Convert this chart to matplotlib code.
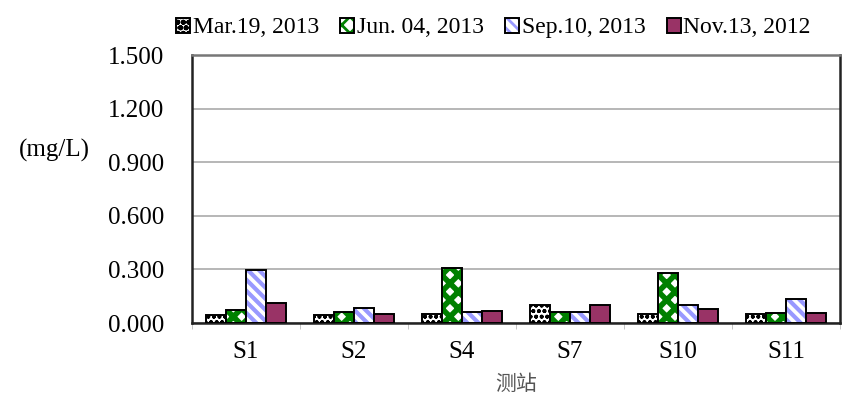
import numpy as np
import matplotlib
matplotlib.use('Agg')
import matplotlib.pyplot as plt

plt.rcParams['font.family'] = ['Liberation Serif', 'Noto Sans CJK SC']
plt.rcParams['hatch.linewidth'] = 2.0

# data
stations = ['S1', 'S2', 'S4', 'S7', 'S10', 'S11']
series_names = ['Mar.19, 2013', 'Jun. 04, 2013', 'Sep.10, 2013', 'Nov.13, 2012']
mar_2013 = [0.043, 0.043, 0.053, 0.098, 0.050, 0.050]
jun_2013 = [0.075, 0.064, 0.310, 0.064, 0.278, 0.056]
sep_2013 = [0.296, 0.086, 0.062, 0.064, 0.100, 0.135]
nov_2012 = [0.112, 0.053, 0.066, 0.098, 0.080, 0.056]
y_ticks = [0.0, 0.3, 0.6, 0.9, 1.2, 1.5]

fig = plt.figure(figsize=(8.43, 4.0), dpi=100)
ax = fig.add_axes([192 / 843, 77 / 400, 648 / 843, 268 / 400])

x = np.arange(len(stations))
w = 0.185
styles = [
    dict(facecolor='white', hatch='ooo', hatch_color='black', hlw=1.2),
    dict(facecolor='white', hatch='xx', hatch_color='#008000', hlw=4.0),
    dict(facecolor='white', hatch='\\\\\\', hatch_color='#9999ff', hlw=3.0),
    dict(facecolor='#993366', hatch=None, hatch_color='black', hlw=1.0),
]
all_vals = [mar_2013, jun_2013, sep_2013, nov_2012]
for i, (vals, st, name) in enumerate(zip(all_vals, styles, series_names)):
    bars = ax.bar(x + (i - 1.5) * w, vals, width=w, facecolor=st['facecolor'],
                  edgecolor='black', linewidth=1.4, label=name, zorder=3)
    if st['hatch']:
        for b in bars:
            b.set_hatch(st['hatch'])
            b._hatch_color = matplotlib.colors.to_rgba(st['hatch_color'])
            if hasattr(b, 'set_hatch_linewidth'):
                b.set_hatch_linewidth(st['hlw'])

ax.set_xlim(-0.5, len(stations) - 0.5)
ax.set_ylim(0, 1.5)
ax.set_yticks(y_ticks)
ax.set_yticklabels([f'{v:.3f}' for v in y_ticks], fontsize=18)
ax.set_xticks(x)
ax.set_xticklabels(stations, fontsize=18)
ax.set_xticks(np.arange(len(stations) + 1) - 0.5, minor=True)
ax.tick_params(axis='x', which='major', length=0, pad=13)
ax.tick_params(axis='x', which='minor', length=4, color='#bbbbbb')
ax.tick_params(axis='y', length=0, pad=20)
ax.grid(axis='y', color='#aaaaaa', linewidth=1.2, zorder=0)

for side in ['left', 'bottom', 'right']:
    ax.spines[side].set_linewidth(1.8)
    ax.spines[side].set_color('#222222')
ax.spines['top'].set_linewidth(1.8)
ax.spines['top'].set_color('#777777')

ax.set_xlabel('测站', fontsize=15, color='#555555', labelpad=9)
fig.text(54 / 843, 1 - 150 / 400, '(mg/L)', fontsize=18, ha='center', va='center')

ax.legend(loc='lower center', bbox_to_anchor=(0.465, 1.0), ncol=4, frameon=False,
          fontsize=17, handlelength=0.6, handleheight=0.6, handletextpad=0.1,
          columnspacing=0.9, borderaxespad=0.3)

fig.savefig('out.png', dpi=100)
